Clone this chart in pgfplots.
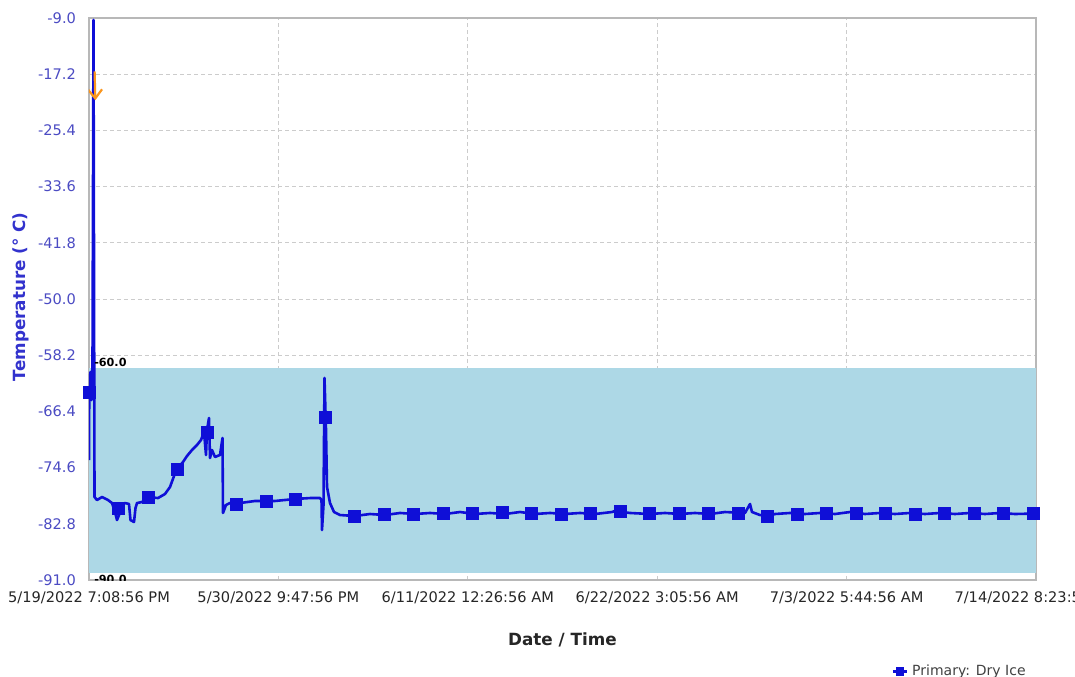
\documentclass[border=0pt]{standalone}
\usepackage{fontspec}
\setmainfont{DejaVu Sans}
\usepackage{pgfplots}
\pgfplotsset{compat=1.18}
\usetikzlibrary{arrows.meta}

\definecolor{lineblue}{RGB}{15,15,215}
\definecolor{bandblue}{RGB}{173,216,230}
\definecolor{tickblue}{RGB}{75,75,195}
\definecolor{labelblue}{RGB}{50,50,205}
\definecolor{alarm}{RGB}{250,150,30}

\begin{document}
\begin{tikzpicture}
\begin{axis}[
    width=473.5pt, height=281pt, scale only axis,
    xmin=0, xmax=55.552, ymin=-91, ymax=-9,
    xtick={0,11.1104,22.2208,33.3313,44.4417,55.5521},
    xticklabels={5/19/2022 7:08:56 PM, 5/30/2022 9:47:56 PM, 6/11/2022 12:26:56 AM,
                 6/22/2022 3:05:56 AM, 7/3/2022 5:44:56 AM, 7/14/2022 8:23:56 AM},
    ytick={-91,-82.8,-74.6,-66.4,-58.2,-50,-41.8,-33.6,-25.4,-17.2,-9},
    yticklabels={-91.0,-82.8,-74.6,-66.4,-58.2,-50.0,-41.8,-33.6,-25.4,-17.2,-9.0},
    grid=major,
    major grid style={draw=black!20, dash pattern=on 2pt off 1.5pt, line width=0.4pt},
    axis line style={draw=black!28, line width=0.6pt},
    major tick length=0pt,
    tick label style={font=\fontsize{7.3}{8.5}\selectfont},
    xticklabel style={text=black!85, yshift=-2.5pt},
    yticklabel style={text=tickblue, xshift=-3pt},
    xlabel={Date / Time},
    xlabel style={font=\fontsize{8.4}{10}\selectfont\bfseries, text=black!85,
                  at={(rel axis cs:0.5,0)}, anchor=north, inner sep=0pt, yshift=-26pt},
    ylabel={Temperature (° C)},
    ylabel style={font=\fontsize{8.4}{10}\selectfont\bfseries, text=labelblue,
                  at={([xshift=-30pt]rel axis cs:0,0.504)}, anchor=south, inner sep=0pt},
    legend style={at={(rel axis cs:0.9937,-0.163)}, anchor=east, draw=none, fill=none,
                  font=\fontsize{7}{8}\selectfont, text=black!75, inner sep=0pt},
    legend image code/.code={
        \draw[lineblue, line width=1.3pt] (0pt,0pt) -- (7pt,0pt);
        \fill[lineblue] (1.6pt,-2.1pt) rectangle (5.4pt,2.1pt);
    },
]

% acceptable range band
\addplot[fill=bandblue, draw=none, forget plot] coordinates {
    (0,-90) (0,-60) (55.552,-60) (55.552,-90)} -- cycle;

% temperature trace
\addplot[lineblue, line width=1.3pt, line join=round, forget plot] coordinates {
(0.000,-73.49) (0.018,-62.11) (0.088,-60.65) (0.147,-64.74) (0.205,-59.78)
(0.264,-9.29) (0.323,-78.89) (0.469,-79.33) (0.763,-78.89) (1.115,-79.33)
(1.349,-79.77) (1.525,-81.08) (1.643,-82.25) (1.760,-81.52) (1.877,-80.06)
(2.112,-79.77) (2.346,-79.91) (2.434,-82.25) (2.640,-82.54) (2.728,-80.50)
(2.816,-79.77) (3.109,-79.62) (3.461,-78.89) (4.048,-79.04) (4.458,-78.45)
(4.752,-77.43) (4.986,-75.83) (5.221,-74.66) (5.514,-73.78) (5.749,-72.91)
(6.042,-72.03) (6.335,-71.30) (6.570,-70.57) (6.746,-69.41) (6.864,-72.76)
(6.922,-69.11) (7.039,-67.36) (7.098,-73.20) (7.216,-72.03) (7.391,-73.05)
(7.685,-72.76) (7.831,-70.28) (7.861,-81.22) (8.037,-80.06) (8.271,-79.77)
(8.858,-79.77) (9.738,-79.47) (10.911,-79.47) (12.084,-79.18) (12.964,-79.04)
(13.551,-79.04) (13.639,-79.33) (13.668,-83.71) (13.756,-80.06) (13.815,-61.53)
(13.903,-69.11) (13.962,-77.43) (14.138,-79.77) (14.372,-81.08) (14.724,-81.52)
(15.604,-81.66) (16.484,-81.37) (17.364,-81.52) (18.244,-81.22) (19.124,-81.37)
(20.004,-81.22) (20.884,-81.37) (21.764,-81.08) (22.643,-81.37) (23.523,-81.22)
(24.403,-81.37) (25.283,-81.08) (26.163,-81.37) (27.043,-81.22) (27.923,-81.37)
(28.803,-81.22) (29.683,-81.37) (30.680,-81.08) (31.032,-80.79) (31.267,-81.08)
(31.736,-81.22) (32.909,-81.37) (33.789,-81.22) (34.669,-81.37) (35.549,-81.22)
(36.429,-81.37) (37.309,-81.08) (38.482,-81.22) (38.775,-79.91) (38.893,-81.08)
(39.362,-81.52) (39.831,-81.66) (40.242,-81.37) (41.122,-81.22) (42.002,-81.37)
(42.882,-81.22) (43.762,-81.37) (44.641,-81.08) (45.521,-81.37) (46.401,-81.22)
(47.281,-81.37) (48.161,-81.22) (49.041,-81.37) (49.921,-81.22) (50.801,-81.37)
(51.681,-81.22) (52.561,-81.37) (53.441,-81.22) (54.321,-81.37) (55.552,-81.30)
};

% sample markers
\addplot[only marks, mark=square*, mark size=3pt, mark options={fill=lineblue, draw=lineblue}]
coordinates {
(0.000,-63.57) (1.731,-80.50) (3.461,-78.89) (5.192,-74.80) (6.922,-69.41)
(8.653,-79.91) (10.383,-79.47) (12.114,-79.18) (13.844,-67.22) (15.575,-81.66)
(17.305,-81.37) (19.036,-81.37) (20.766,-81.22) (22.497,-81.22) (24.227,-81.08)
(25.958,-81.22) (27.688,-81.37) (29.419,-81.22) (31.149,-80.93) (32.880,-81.22)
(34.610,-81.22) (36.341,-81.22) (38.071,-81.22) (39.802,-81.66) (41.532,-81.37)
(43.263,-81.22) (44.993,-81.22) (46.724,-81.22) (48.454,-81.37) (50.185,-81.22)
(51.915,-81.22) (53.646,-81.22) (55.376,-81.22)
};
\addlegendentry{Primary: Dry Ice}

% alarm arrow
\addplot[alarm, line width=1.1pt, forget plot, -{Straight Barb[length=4.5pt, width=7pt]}]
coordinates {(0.33,-16.8) (0.37,-21.0)};

\node[anchor=south west, inner sep=0.3pt, font=\fontsize{5.6}{7}\selectfont\bfseries]
    at (axis cs:0.25,-60) {-60.0};
\node[anchor=north west, inner sep=0.3pt, font=\fontsize{5.6}{7}\selectfont\bfseries]
    at (axis cs:0.25,-90.2) {-90.0};
\end{axis}
\pgfresetboundingbox
\path[use as bounding box] ([shift={(-44.5pt,-48pt)}]current axis.south west)
    rectangle ([shift={(19.5pt,9pt)}]current axis.north east);
\end{tikzpicture}
\end{document}
